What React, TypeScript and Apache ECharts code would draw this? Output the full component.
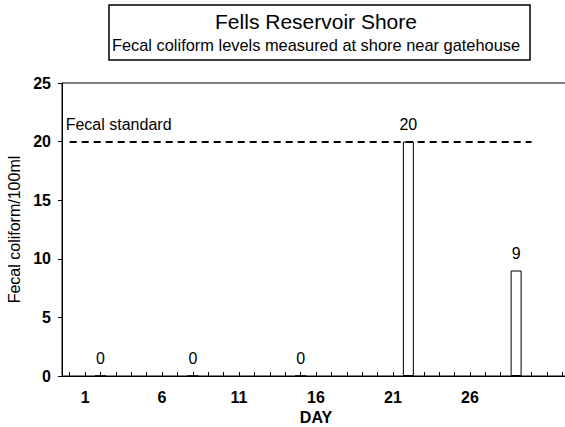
import React, { useEffect, useRef } from "react";
import * as echarts from "echarts";

const days: string[] = [];
for (let d = 0; d <= 32; d++) days.push(String(d));
const sampleDays = [2, 8, 15, 22, 29];
const sampleValues = [0, 0, 0, 20, 9];
const yTicks = [0, 5, 10, 15, 20, 25];
const xLabelDays = ["1", "6", "11", "16", "21", "26"];
const standardValue = 20;
const standardStartDay = "0";
const standardEndDay = "30";

const FONT = "'Liberation Sans', Arial, sans-serif";

export default function App() {
  const ref = useRef<HTMLDivElement>(null);
  useEffect(() => {
    document.body.style.margin = "0";
    const chart = echarts.init(ref.current!, null, { renderer: "svg" });
    const values = days.map((d) => {
      const i = sampleDays.indexOf(Number(d));
      return i >= 0 ? sampleValues[i] : null;
    });
    chart.setOption({
      animation: false,
      backgroundColor: "#fff",
      textStyle: { fontFamily: FONT, color: "#000" },
      title: {
        text: "Fells Reservoir Shore",
        subtext: "Fecal coliform levels measured at shore near gatehouse",
        left: 313,
        top: 5,
        textAlign: "center",
        borderColor: "#000",
        borderWidth: 1.5,
        padding: [6, 10, 7, 3],
        itemGap: 5,
        textStyle: { fontFamily: FONT, fontSize: 21, fontWeight: "normal", color: "#000" },
        subtextStyle: { fontFamily: FONT, fontSize: 16.4, color: "#000" },
      },
      grid: {
        left: 62,
        top: 83,
        bottom: 51,
        right: -5,
        show: true,
        borderColor: "#000",
        borderWidth: 1,
        containLabel: false,
        outerBoundsMode: "none",
      },
      xAxis: {
        type: "category",
        data: days,
        boundaryGap: true,
        name: "DAY",
        nameLocation: "middle",
        nameGap: 33,
        nameTextStyle: { fontFamily: FONT, fontSize: 16, fontWeight: "bold", color: "#000" },
        axisLine: { lineStyle: { color: "#000", width: 1 } },
        axisTick: { show: true, inside: true, length: 4, interval: 0, alignWithLabel: true, lineStyle: { color: "#000" } },
        axisLabel: {
          interval: (_i: number, v: string) => xLabelDays.indexOf(v) >= 0,
          margin: 13,
          fontFamily: FONT,
          fontSize: 16,
          fontWeight: "bold",
          color: "#000",
        },
        splitLine: { show: false },
      },
      yAxis: {
        type: "value",
        min: yTicks[0],
        max: yTicks[yTicks.length - 1],
        interval: 5,
        name: "Fecal coliform/100ml",
        nameLocation: "middle",
        nameGap: 30,
        nameTextStyle: { fontFamily: FONT, fontSize: 16, color: "#000" },
        axisLine: { show: true, lineStyle: { color: "#000", width: 1 } },
        axisTick: { show: true, inside: false, length: 4, lineStyle: { color: "#000" } },
        axisLabel: { margin: 11, fontFamily: FONT, fontSize: 16, fontWeight: "bold", color: "#000" },
        splitLine: { show: false },
      },
      series: [
        {
          type: "bar",
          data: values,
          barWidth: 11,
          itemStyle: { color: "#fff", borderColor: "#000", borderWidth: 1 },
          label: {
            show: true,
            position: "top",
            distance: 9,
            fontFamily: FONT,
            fontSize: 16,
            color: "#000",
          },
          markLine: {
            silent: true,
            symbol: "none",
            lineStyle: { color: "#000", type: [7, 5], width: 2 },
            label: {
              show: true,
              position: "insideStartTop",
              formatter: "Fecal standard",
              distance: [0, 9],
              offset: [-4, 0],
              fontFamily: FONT,
              fontSize: 16,
              color: "#000",
            },
            data: [
              [
                { coord: [standardStartDay, standardValue] },
                { coord: [standardEndDay, standardValue] },
              ],
            ],
          },
        },
      ],
    });
    return () => chart.dispose();
  }, []);
  return <div ref={ref} style={{ width: 565, height: 427 }} />;
}
